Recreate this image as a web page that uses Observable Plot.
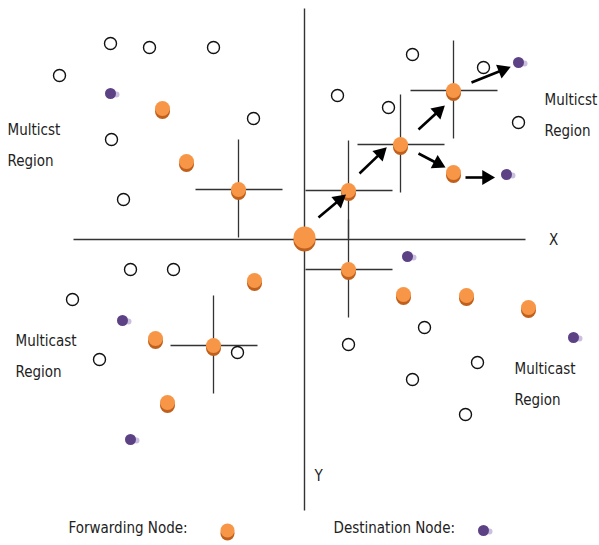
<!DOCTYPE html>
<html><head><meta charset="utf-8">
<script src="https://cdn.jsdelivr.net/npm/d3@7"></script>
<script src="https://cdn.jsdelivr.net/npm/@observablehq/plot@0.6"></script>
<style>body{margin:0;background:#fff}</style>
</head><body><div id="chart"></div>
<script>
// Diagram coordinates: origin at the centre node, x right, y up
const originNode = [{x: 0, y: 2}];
const forwardingX = [44, 44, 96, 149, 149, -142, -118, -66, -50, -149, -137, -91, 99, 162, 224];
const forwardingY = [49, -30, 95, 149, 67, 131, 78, 50, -41, -99, -163, -106, -55, -56, -68];
const crossIdx = [0, 1, 2, 3, 7, 11]; // forwarding nodes with transmission-range crosshairs
const openX = [108, 33, 84, 179, 214, -194, -155, -91, -245, -51, -193, -181, -174, -131, -232, -205, -67, 120, 44, 173, 108, 161];
const openY = [185, 144, 132, 172, 117, 196, 192, 192, 164, 121, 100, 40, -30, -30, -60, -120, -113, -88, -105, -123, -140, -175];
const destX = [214, 202, -194, -182, -174, 103, 269];
const destY = [177, 65, 146, -81, -200, -17, -98];
const arrowX1 = [14, 55, 114, 167, 114, 161];
const arrowY1 = [22, 66, 110, 157, 86, 62];
const arrowX2 = [38, 79, 137, 202, 137, 186];
const arrowY2 = [42, 89, 131, 171, 74, 62];
const regionLabels = ["Multicst\nRegion", "Multicst\nRegion", "Multicast\nRegion", "Multicast\nRegion"];
const regionX = [-297, 240, -289, 210];
const regionY = [99, 129, -112, -140];
const axisLabels = ["X", "Y"];
const axisLabelX = [249, 14];
const axisLabelY = [-1, -237];
const legendLabels = ["Forwarding Node:", "Destination Node:"];
const legendTextX = [-236, 29];
const legendMarkX = [-77, 179];
const legendY = -289;

const forwarding = forwardingX.map((x, i) => ({x, y: forwardingY[i]}));
const crosses = crossIdx.map(i => forwarding[i]);
const open = openX.map((x, i) => ({x, y: openY[i]}));
const dest = destX.map((x, i) => ({x, y: destY[i]}));
const arrows = arrowX1.map((x1, i) => {
  const x2 = arrowX2[i], y1 = arrowY1[i], y2 = arrowY2[i];
  const dx = x2 - x1, dy = y2 - y1, L = Math.hypot(dx, dy);
  const ux = dx / L, uy = dy / L;
  return {x1, y1, x2, y2,
    sx: x2 - ux * 6, sy: y2 - uy * 6,      // shaft end
    hx: x2 - ux * 4, hy: y2 - uy * 4,      // head centre
    rot: Math.atan2(dx, dy) * 180 / Math.PI};
});
const regions = regionLabels.map((t, i) => ({t, x: regionX[i], y: regionY[i]}));
const axLabels = axisLabels.map((t, i) => ({t, x: axisLabelX[i], y: axisLabelY[i]}));
const legendText = legendLabels.map((t, i) => ({t, x: legendTextX[i], y: legendY}));
const legendFwd = [{x: legendMarkX[0], y: legendY - 2}];
const legendDest = [{x: legendMarkX[1], y: legendY - 2}];
const axisLines = [{x1: -231, y1: 0, x2: 221, y2: 0}, {x1: 0, y1: 231, x2: 0, y2: -271}];

const FONT = "'Liberation Sans Narrow', 'DejaVu Sans Condensed', sans-serif";
const ORANGE = "#f79646", ORANGE_D = "#c0601c", PURPLE = "#5c4285";

const orangeNode = (data, r) => [
  Plot.dot(data, {x: "x", y: "y", r, dy: 3, fill: ORANGE_D}),
  Plot.dot(data, {x: "x", y: "y", r, fill: ORANGE})
];
const purpleNode = (data) => [
  Plot.dot(data, {x: "x", y: "y", r: 3, dx: 6, dy: 1, fill: "#cbbfe0"}),
  Plot.dot(data, {x: "x", y: "y", r: 5.5, fill: PURPLE})
];

const chart = Plot.plot({
  width: 599, height: 545,
  margin: 0,
  x: {domain: [-304, 295], range: [0, 599], axis: null},
  y: {domain: [239, -306], range: [0, 545], axis: null},
  style: {fontFamily: FONT, background: "#fff"},
  marks: [
    Plot.link(axisLines, {x1: "x1", y1: "y1", x2: "x2", y2: "y2", stroke: "#333", strokeWidth: 1.4}),
    Plot.link(crosses, {x1: d => d.x - 43, x2: d => d.x + 44, y1: "y", y2: "y", stroke: "#333", strokeWidth: 1.3}),
    Plot.link(crosses, {x1: "x", x2: "x", y1: d => d.y + 50, y2: d => d.y - 48, stroke: "#333", strokeWidth: 1.3}),
    Plot.dot(open, {x: "x", y: "y", r: 6, fill: "white", stroke: "#111", strokeWidth: 1.4}),
    ...orangeNode(forwarding, 7.5),
    ...orangeNode(originNode, 11),
    ...purpleNode(dest),
    Plot.link(arrows, {x1: "x1", y1: "y1", x2: "sx", y2: "sy", stroke: "#000", strokeWidth: 2.6}),
    Plot.dot(arrows, {x: "hx", y: "hy", symbol: "triangle", r: 5.5, rotate: "rot", fill: "#000"}),
    Plot.text(regions, {x: "x", y: "y", text: "t", textAnchor: "start", lineHeight: 2.05, fontSize: 15, fill: "#222"}),
    Plot.text(axLabels, {x: "x", y: "y", text: "t", fontSize: 15, fill: "#222"}),
    Plot.text(legendText, {x: "x", y: "y", text: "t", textAnchor: "start", fontSize: 15, fill: "#222"}),
    ...orangeNode(legendFwd, 7),
    ...purpleNode(legendDest)
  ]
});
document.getElementById("chart").appendChild(chart);
</script>
</body></html>
